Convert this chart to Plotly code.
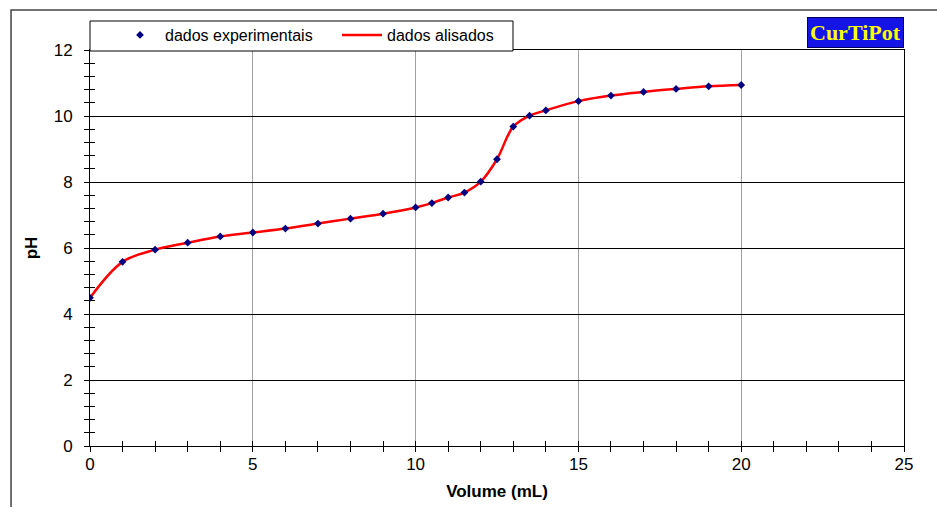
import plotly.graph_objects as go

volume = [0, 1, 2, 3, 4, 5, 6, 7, 8, 9, 10, 10.5, 11, 11.5, 12, 12.5, 13, 13.5, 14, 15, 16, 17, 18, 19, 20]
ph = [4.49, 5.58, 5.95, 6.16, 6.35, 6.47, 6.59, 6.74, 6.89, 7.04, 7.23, 7.36, 7.53, 7.68, 8.01, 8.69, 9.68, 10.01, 10.17, 10.45, 10.62, 10.73, 10.82, 10.90, 10.94]

x_ticks = [0, 5, 10, 15, 20, 25]
y_ticks = [0, 2, 4, 6, 8, 10, 12]

FONT = "Liberation Sans, Arial, sans-serif"
PLOT_H = 507 - 50 - 61

fig = go.Figure()
fig.add_trace(go.Scatter(
    x=volume, y=ph, mode="lines", name="dados alisados",
    line=dict(color="#ff0000", width=2.5, shape="spline", smoothing=1.0),
    legendrank=2,
))
fig.add_trace(go.Scatter(
    x=volume, y=ph, mode="markers", name="dados experimentais",
    marker=dict(symbol="diamond", color="#000080", size=6),
    legendrank=1,
))

common_tick = dict(color="#000", size=17, family=FONT)

fig.update_layout(
    width=937, height=507,
    margin=dict(l=90, r=33, t=50, b=61, autoexpand=False),
    paper_bgcolor="white", plot_bgcolor="white",
    font=dict(family=FONT, color="#000"),
    showlegend=True,
    legend=dict(
        orientation="h", x=(115 - 90) / 814, xanchor="left",
        y=1 + (50 - 18) / PLOT_H, yanchor="top",
        bgcolor="rgba(0,0,0,0)", borderwidth=0,
        font=dict(size=16, family=FONT, color="#000"),
        itemwidth=40, entrywidth=167,
        tracegroupgap=0,
    ),
    xaxis=dict(
        range=[0, 25], tickvals=x_ticks, ticktext=[str(v) for v in x_ticks],
        showgrid=True, gridcolor="#a0a0a0", gridwidth=1,
        showline=True, linecolor="black", linewidth=1, mirror=True,
        ticks="inside", ticklen=5, tickcolor="black", tickwidth=1,
        minor=dict(dtick=1, tick0=0, ticks="inside", ticklen=5, tickcolor="black", tickwidth=1, showgrid=False),
        tickfont=common_tick, ticklabelstandoff=3,
        zeroline=False, automargin=False,
        title=dict(text="<b>Volume (mL)</b>", font=dict(size=17, family=FONT, color="#000"), standoff=11),
    ),
    yaxis=dict(
        range=[0, 12], tickvals=y_ticks, ticktext=[str(v) for v in y_ticks],
        showgrid=True, gridcolor="black", gridwidth=1,
        showline=True, linecolor="black", linewidth=1, mirror=True,
        ticks="outside", ticklen=5, tickcolor="black", tickwidth=1,
        minor=dict(dtick=0.4, tick0=0, ticks="outside", ticklen=5, tickcolor="black", tickwidth=1, showgrid=False),
        tickfont=common_tick, ticklabelstandoff=8,
        zeroline=False, automargin=False,
        title=dict(text="<b>pH</b>", font=dict(size=17, family=FONT, color="#000"), standoff=11),
    ),
    xaxis2=dict(
        overlaying="x", anchor="y", range=[0, 25], tickvals=x_ticks, showticklabels=False,
        showgrid=False, showline=False, zeroline=False,
        ticks="outside", ticklen=5, tickcolor="black", tickwidth=1,
        minor=dict(dtick=1, tick0=0, ticks="outside", ticklen=5, tickcolor="black", tickwidth=1, showgrid=False),
    ),
    yaxis2=dict(
        overlaying="y", anchor="x", side="left", range=[0, 12], tickvals=y_ticks, showticklabels=False,
        showgrid=False, showline=False, zeroline=False,
        ticks="inside", ticklen=5, tickcolor="black", tickwidth=1,
        minor=dict(dtick=0.4, tick0=0, ticks="inside", ticklen=5, tickcolor="black", tickwidth=1, showgrid=False),
    ),
)

# invisible helper trace so the overlay tick axes are drawn
fig.add_trace(go.Scatter(x=[volume[0]], y=[ph[0]], xaxis="x2", yaxis="y2",
                         mode="markers", marker=dict(opacity=0), showlegend=False, hoverinfo="skip"))

# outer chart frame
fig.add_shape(type="rect", xref="paper", yref="paper",
              x0=-0.097, x1=1.2, y0=-0.3, y1=1 + (50 - 10) / PLOT_H,
              line=dict(color="#444", width=1.5), fillcolor="rgba(0,0,0,0)", layer="below")

# legend frame
fig.add_shape(type="rect", xref="paper", yref="paper",
              x0=0, x1=(513 - 90) / 814, y0=1 + (50 - 51) / PLOT_H, y1=1 + (50 - 21) / PLOT_H,
              line=dict(color="black", width=1), fillcolor="white", layer="above")

# CurTiPot logo
fig.add_annotation(
    xref="paper", yref="paper", x=(855 - 90) / 814, y=1 + (50 - 32.5) / PLOT_H,
    xanchor="center", yanchor="middle",
    text="<b>CurTiPot</b>", showarrow=False,
    font=dict(family="Liberation Serif, Times New Roman, serif", size=22, color="#ffff00"),
    bgcolor="#1414e6", bordercolor="#000060", borderwidth=1, borderpad=2,
)

fig.write_html("out.html")
